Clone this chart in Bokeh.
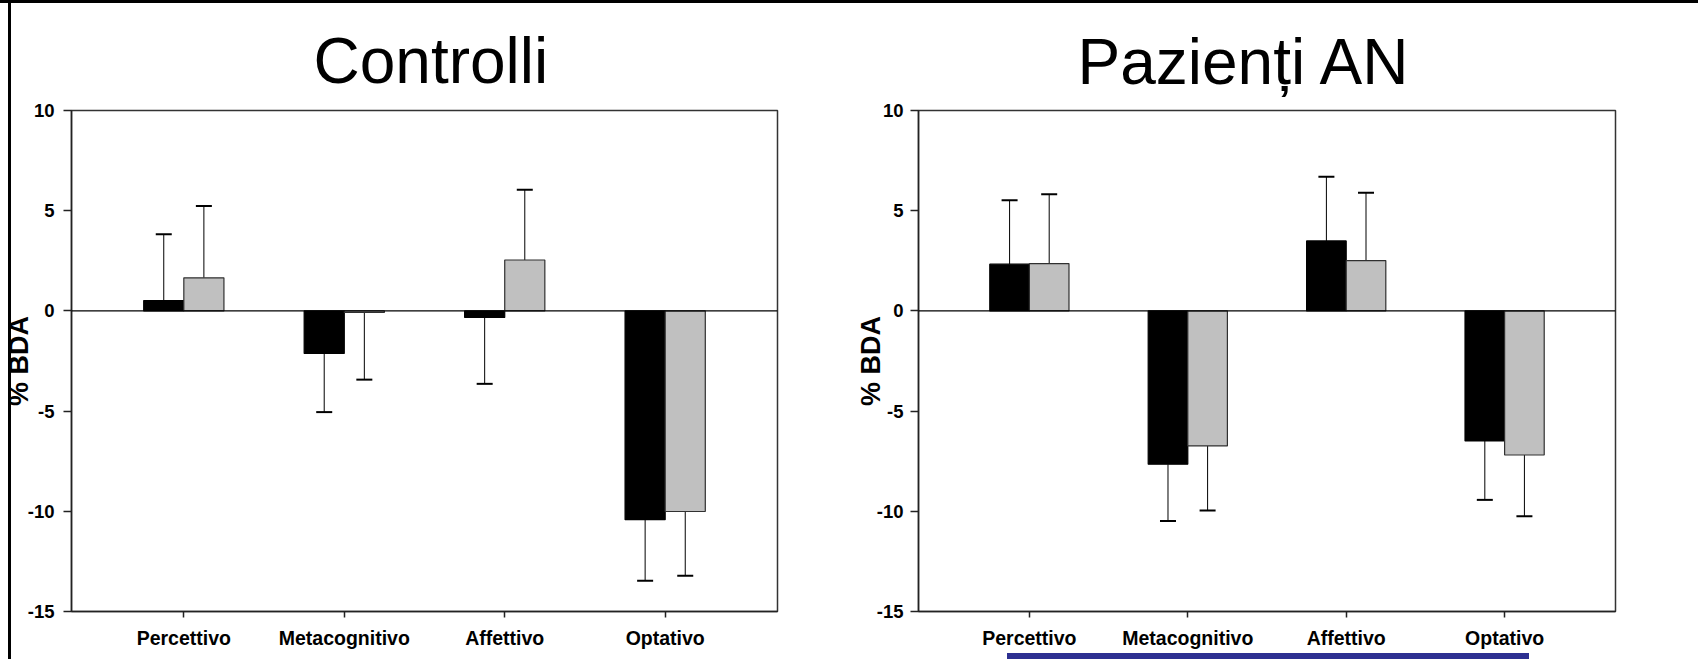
import numpy as np
from bokeh.plotting import figure
from bokeh.layouts import row
from bokeh.models import Range1d, FixedTicker, Span, ColumnDataSource
from bokeh.embed import file_html
from bokeh.resources import INLINE

# --- data -------------------------------------------------------------
categories = ["Percettivo", "Metacognitivo", "Affettivo", "Optativo"]
y_ticks = [-15, -10, -5, 0, 5, 10]

# Controlli: mean % BDA and error (one-sided, away from zero)
ctrl_dark = [0.52, -2.12, -0.33, -10.42]
ctrl_dark_err = [3.30, 2.93, 3.31, 3.04]
ctrl_light = [1.65, -0.08, 2.54, -10.01]
ctrl_light_err = [3.58, 3.35, 3.51, 3.20]

# Pazienti AN
an_dark = [2.33, -7.65, 3.49, -6.49]
an_dark_err = [3.19, 2.83, 3.20, 2.94]
an_light = [2.36, -6.74, 2.51, -7.19]
an_light_err = [3.46, 3.22, 3.38, 3.06]

FONT = "Liberation Sans"


def panel(title, dark, dark_err, light, light_err, width, height, borders,
          title_offset, title_standoff, ylabel_standoff, ytick_standoff, styles):
    left, right, top, bottom = borders
    p = figure(width=width, height=height, title=title,
               x_range=Range1d(0.3, 4.7), y_range=Range1d(-15, 10),
               output_backend="svg", toolbar_location=None,
               min_border_left=left, min_border_right=right,
               min_border_top=top, min_border_bottom=bottom,
               styles=styles)
    p.border_fill_alpha = 0
    p.background_fill_color = "white"
    p.outline_line_color = "#333333"
    p.outline_line_width = 1.5
    p.xgrid.visible = False
    p.ygrid.visible = False

    xs = np.arange(1, len(categories) + 1)
    for vals, errs, shift, fill, edge in [
        (dark, dark_err, -0.125, "black", "black"),
        (light, light_err, 0.125, "#c0c0c0", "#303030"),
    ]:
        vals = np.asarray(vals, dtype=float)
        errs = np.asarray(errs, dtype=float)
        tip = vals + np.where(vals >= 0, 1.0, -1.0) * errs
        src = ColumnDataSource(dict(x=xs + shift, top=vals, tip=tip))
        p.segment(x0="x", y0="top", x1="x", y1="tip", source=src,
                  line_color="black", line_width=1)
        p.vbar(x="x", top="top", bottom=0, width=0.25, source=src,
               fill_color=fill, line_color=edge, line_width=1.2)
        p.scatter(x="x", y="tip", marker="dash", size=16, source=src,
                  line_color="black", line_width=2)

    p.add_layout(Span(location=0, dimension="width", line_color="black",
                      line_width=1.2))

    # axes
    p.xaxis.ticker = FixedTicker(ticks=[float(x) for x in xs])
    p.xaxis.major_label_overrides = {int(x): c for x, c in zip(xs, categories)}
    p.xaxis.major_tick_in = 0
    p.xaxis.major_tick_out = 6
    p.xaxis.minor_tick_out = 0
    p.xaxis.minor_tick_in = 0
    p.xaxis.major_label_standoff = 9
    p.xaxis.major_label_text_font_size = "19.5px"

    p.yaxis.ticker = FixedTicker(ticks=y_ticks)
    p.yaxis.major_label_overrides = {t: str(t) for t in y_ticks}
    p.yaxis.major_tick_in = 0
    p.yaxis.major_tick_out = 8
    p.yaxis.minor_tick_out = 0
    p.yaxis.minor_tick_in = 0
    p.yaxis.major_label_standoff = ytick_standoff
    p.yaxis.major_label_text_font_size = "18.5px"
    p.yaxis.axis_label = "% BDA"
    p.yaxis.axis_label_text_font = FONT
    p.yaxis.axis_label_text_font_style = "bold"
    p.yaxis.axis_label_text_font_size = "27px"
    p.yaxis.axis_label_text_color = "black"
    p.yaxis.axis_label_standoff = ylabel_standoff

    for ax in (p.xaxis[0], p.yaxis[0]):
        ax.major_label_text_font = FONT
        ax.major_label_text_font_style = "bold"
        ax.major_label_text_color = "black"
        ax.axis_line_color = "#222222"
        ax.axis_line_width = 1.5
        ax.major_tick_line_color = "#222222"
        ax.major_tick_line_width = 1.5

    p.title.text_font = FONT
    p.title.text_font_style = "normal"
    p.title.text_font_size = "64px"
    p.title.text_color = "black"
    p.title.align = "left"
    p.title.offset = title_offset
    p.title.standoff = title_standoff
    return p


left_styles = {
    "background": ("linear-gradient(black, black) 0 0 / 100% 3px no-repeat, "
                   "linear-gradient(black, black) 8px 0 / 3px 100% no-repeat, white"),
}
right_styles = {
    "background": ("linear-gradient(black, black) 0 0 / 100% 3px no-repeat, "
                   "linear-gradient(#2d3091, #2d3091) 159px 653px / 522px 6px no-repeat, white"),
}

p_ctrl = panel("Controlli", ctrl_dark, ctrl_dark_err, ctrl_light, ctrl_light_err,
               848, 659, (70, 71, 104, 46), 242, 27, -9, 9, left_styles)
p_an = panel("Pazienți AN", an_dark, an_dark_err, an_light, an_light_err,
             850, 659, (70, 83, 110, 48), 159, 25, -12, 7, right_styles)

layout = row(p_ctrl, p_an)
open("out.html", "w").write(file_html(layout, INLINE))
